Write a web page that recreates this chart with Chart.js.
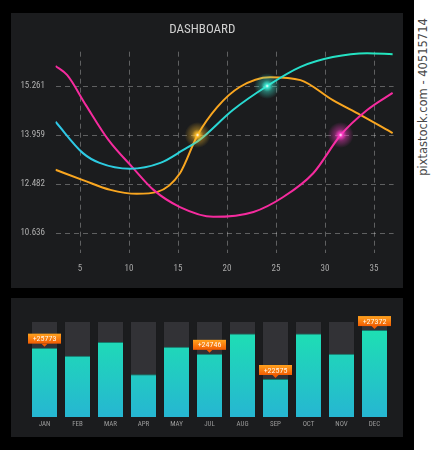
<!DOCTYPE html>
<html>
<head>
<meta charset="utf-8">
<script src="https://cdn.jsdelivr.net/npm/chart.js@4.4.1/dist/chart.umd.min.js"></script>
<style>
  html, body { margin:0; padding:0; }
  body { width:432px; height:450px; position:relative; background:#ffffff; overflow:hidden; }
  #black { position:absolute; left:0; top:0; width:414px; height:450px; background:#000; }
  .panel { position:absolute; background:#1b1c1e; }
  #p1 { left:11px; top:13px; width:392px; height:275px; }
  #p2 { left:11px; top:298px; width:392px; height:139px; }
  #strip { position:absolute; left:414px; top:0; width:18px; height:450px; background:#fff; }
  #strip span { position:absolute; left:9px; top:97px; transform: translate(-50%,-50%) rotate(-90deg);
    white-space:nowrap; font-family:'DejaVu Sans', sans-serif; font-size:11.5px; color:#4a4a4a; }
</style>
</head>
<body>
<div id="black"></div>
<div class="panel" id="p1"><canvas id="c1" width="392" height="275"></canvas></div>
<div class="panel" id="p2"><canvas id="c2" width="392" height="139"></canvas></div>
<div id="strip"><span>pixtastock.com - 40515714</span></div>
<script>
// ---------- DATA ----------
const chartTitle = 'DASHBOARD';
const xTickValues = [5, 10, 15, 20, 25, 30, 35];
const yTickValues = [1, 2, 3, 4];
const yTickLabels = ['10.636', '12.482', '13.959', '15.261'];

const pinkX = [2.5, 3.7, 5.6, 7.9, 10.4, 12.5, 15.2, 18.6, 22.7, 25.7, 28.8, 31.6, 34.3, 36.9];
const pinkY = [4.41, 4.22, 3.61, 2.90, 2.33, 1.88, 1.53, 1.33, 1.43, 1.73, 2.22, 3.0, 3.51, 3.86];

const cyanX = [2.5, 5.3, 7.0, 10.1, 13.2, 15.5, 17.2, 20.6, 24.1, 27.5, 30.8, 34.3, 36.9];
const cyanY = [3.27, 2.63, 2.43, 2.31, 2.43, 2.69, 2.90, 3.51, 4.0, 4.39, 4.59, 4.67, 4.65];

const orangeX = [2.5, 5.3, 8.1, 10.8, 12.9, 15.2, 17.0, 19.0, 21.3, 24.4, 27.5, 30.8, 33.6, 36.9];
const orangeY = [2.29, 2.08, 1.88, 1.80, 1.84, 2.22, 3.0, 3.57, 3.98, 4.18, 4.12, 3.71, 3.41, 3.04];

const highlightX = [17.0, 24.1, 31.6];
const highlightY = [3.0, 4.0, 3.0];
const highlightColors = ['255,190,40', '60,240,215', '255,60,200'];

const months = ['JAN','FEB','MAR','APR','MAY','JUL','AUG','SEP','OCT','NOV','DEC'];
const monthValues = [73, 64.5, 79, 45, 74, 66.5, 88, 40, 88, 66.5, 91.5];
const monthMax = [100,100,100,100,100,100,100,100,100,100,100];
const calloutMonths = ['JAN','JUL','SEP','DEC'];
const calloutTexts = ['+25773','+24746','+22575','+27372'];

// ---------- HELPERS ----------
const NARROW = "'Roboto Condensed','Liberation Sans Narrow',Roboto,sans-serif";
const toPts = (xs, ys) => xs.map((x, i) => ({ x: x, y: ys[i] }));

function cyanGradient(ctx) {
  const chart = ctx.chart; const a = chart.chartArea;
  if (!a) return '#2ad0d8';
  const g = chart.ctx.createLinearGradient(a.left, 0, a.right, 0);
  g.addColorStop(0, '#2ec6e6');
  g.addColorStop(0.45, '#2ad6d6');
  g.addColorStop(1, '#22e6bc');
  return g;
}

const glowPlugin = {
  id: 'glow',
  afterDatasetsDraw(chart) {
    const c = chart.ctx, xs = chart.scales.x, ys = chart.scales.y;
    c.save();
    highlightX.forEach((hx, i) => {
      const px = xs.getPixelForValue(hx), py = ys.getPixelForValue(highlightY[i]);
      const col = highlightColors[i];
      const g = c.createRadialGradient(px, py, 0, px, py, 13);
      g.addColorStop(0, 'rgba(255,255,255,1)');
      g.addColorStop(0.15, 'rgba(' + col + ',0.95)');
      g.addColorStop(0.45, 'rgba(' + col + ',0.4)');
      g.addColorStop(1, 'rgba(' + col + ',0)');
      c.fillStyle = g;
      c.beginPath(); c.arc(px, py, 13, 0, Math.PI * 2); c.fill();
    });
    c.restore();
  }
};

const gridStyle = { color: 'rgba(255,255,255,0.3)', lineWidth: 1, drawTicks: false };

new Chart(document.getElementById('c1'), {
  type: 'line',
  data: {
    datasets: [
      { label: 'orange', data: toPts(orangeX, orangeY), borderColor: '#f9a620', borderWidth: 2, order: 3 },
      { label: 'pink', data: toPts(pinkX, pinkY), borderColor: '#f52b9e', borderWidth: 2, order: 2 },
      { label: 'cyan', data: toPts(cyanX, cyanY), borderColor: cyanGradient, borderWidth: 2, order: 1 }
    ]
  },
  options: {
    responsive: false, animation: false, devicePixelRatio: 1,
    layout: { padding: { left: 0, right: 9.4, top: 0, bottom: 0 } },
    elements: { point: { radius: 0 }, line: { cubicInterpolationMode: 'monotone', fill: false } },
    plugins: {
      legend: { display: false }, tooltip: { enabled: false },
      title: { display: true, text: chartTitle, color: '#cfcfcf',
        font: { family: NARROW, size: 13, weight: 'normal' }, padding: { top: 8.7, bottom: 14.4 } }
    },
    scales: {
      x: {
        type: 'linear', min: 2.5, max: 37,
        afterBuildTicks: s => { s.ticks = xTickValues.map(v => ({ value: v })); },
        afterFit: s => { s.height = 35.4; },
        grid: Object.assign({}, gridStyle),
        border: { display: false, dash: [5, 4] },
        ticks: { color: '#a8a8a8', font: { family: NARROW, size: 9 }, padding: 11, autoSkip: false, maxRotation: 0 }
      },
      y: {
        type: 'linear', min: 0.6, max: 4.7,
        afterBuildTicks: s => { s.ticks = yTickValues.map(v => ({ value: v })); },
        afterFit: s => { s.width = 44.5; },
        grid: Object.assign({}, gridStyle),
        border: { display: false, dash: [5, 4] },
        ticks: { color: '#b0b0b0', font: { family: NARROW, size: 9 }, padding: 10.5,
          callback: v => { const i = yTickValues.indexOf(v); return i >= 0 ? yTickLabels[i] : ''; } }
      }
    }
  },
  plugins: [glowPlugin]
});

// ---------- BAR CHART ----------
function barGradient(ctx) {
  const chart = ctx.chart; const a = chart.chartArea;
  if (!a) return '#1fd0c0';
  const g = chart.ctx.createLinearGradient(0, a.top, 0, a.bottom);
  g.addColorStop(0, '#1de3b0');
  g.addColorStop(1, '#26b6d2');
  return g;
}

const calloutPlugin = {
  id: 'callouts',
  afterDatasetsDraw(chart) {
    const c = chart.ctx;
    const meta = chart.getDatasetMeta(1);
    c.save();
    calloutMonths.forEach((m, k) => {
      const i = months.indexOf(m);
      const bar = meta.data[i];
      const cx = bar.x, top = bar.y;
      const w = 33, h = 10;
      const by = top - 4 - h;
      const g = c.createLinearGradient(0, by, 0, by + h);
      g.addColorStop(0, '#ffa21e');
      g.addColorStop(1, '#f25c02');
      c.fillStyle = g;
      c.fillRect(cx - w / 2, by, w, h);
      c.beginPath();
      c.moveTo(cx - 3, by + h); c.lineTo(cx + 3, by + h); c.lineTo(cx, by + h + 3); c.closePath();
      c.fillStyle = '#f25c02'; c.fill();
      c.fillStyle = '#fff5e8';
      c.font = '8px ' + NARROW;
      c.textAlign = 'center'; c.textBaseline = 'middle';
      c.fillText(calloutTexts[k], cx, by + h / 2 + 0.5);
    });
    c.restore();
  }
};

new Chart(document.getElementById('c2'), {
  type: 'bar',
  data: {
    labels: months,
    datasets: [
      { label: 'max', data: monthMax, backgroundColor: '#323236', grouped: false, order: 2,
        categoryPercentage: 1, barPercentage: 0.758 },
      { label: 'value', data: monthValues, backgroundColor: barGradient, grouped: false, order: 1,
        categoryPercentage: 1, barPercentage: 0.758,
        borderColor: '#157a6c', borderWidth: { top: 1, left: 0, right: 0, bottom: 0 }, borderSkipped: false }
    ]
  },
  options: {
    responsive: false, animation: false, devicePixelRatio: 1,
    layout: { padding: { left: 17, right: 12, top: 24, bottom: 0 } },
    plugins: { legend: { display: false }, tooltip: { enabled: false } },
    scales: {
      x: {
        grid: { display: false, drawTicks: false }, border: { display: false },
        afterFit: s => { s.height = 20; },
        ticks: { color: '#9a9a9a', font: { family: NARROW, size: 7 }, padding: 3, autoSkip: false, maxRotation: 0 }
      },
      y: { display: false, min: 0, max: 100 }
    }
  },
  plugins: [calloutPlugin]
});
</script>
</body>
</html>
